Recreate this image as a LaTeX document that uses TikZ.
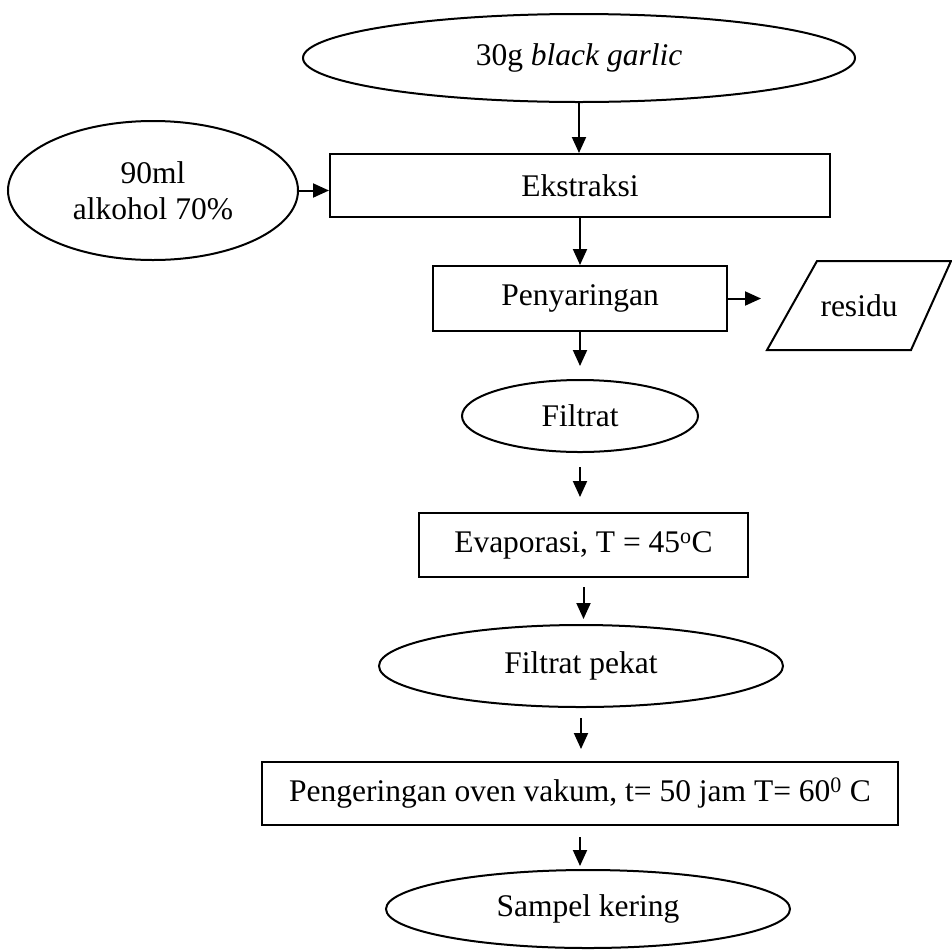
\documentclass[tikz,border=0pt]{standalone}
\usepackage{fontspec}
\setmainfont{Liberation Serif}
\usetikzlibrary{shapes.geometric,arrows.meta}
\begin{document}
\begin{tikzpicture}[x=1pt,y=-1pt,
  lbl/.style={font=\fontsize{31.5}{36}\selectfont, inner sep=0pt, line width=2pt},
  oval/.style={lbl, draw, ellipse},
  box/.style={lbl, draw, rectangle},
  arr/.style={-{Triangle[length=16pt,width=14pt]}, line width=2pt}]
\useasboundingbox (0,0) rectangle (952,951);
\node[oval, minimum width=552, minimum height=88] (garlic) at (579,58) {30g \textit{black garlic}};
\node[box, minimum width=500, minimum height=63] (ekst) at (580,185.5) {Ekstraksi};
\node[oval, minimum width=290, minimum height=139, align=center] (alk) at (153,190.5) {90ml\\alkohol 70\%};
\node[box, minimum width=294, minimum height=65] (pen) at (580,298.5) {Penyaringan};
\node[lbl, minimum width=182, minimum height=87] (res) at (859,305.5) {residu};
\draw[line width=2pt] (res.south west) -- ([xshift=-40pt]res.south east) -- (res.north east) -- ([xshift=50pt]res.north west) -- cycle;
\node[oval, minimum width=236, minimum height=72] (filt) at (580,416) {Filtrat};
\node[box, minimum width=329, minimum height=64] (evap) at (583.5,545) {Evaporasi, T = 45\textsuperscript{o}C};
\node[oval, minimum width=404, minimum height=82] (fp) at (581,666) {Filtrat pekat};
\node[box, minimum width=636, minimum height=63] (peng) at (580,793.5) {Pengeringan oven vakum, t= 50 jam T= 60\textsuperscript{0} C};
\node[oval, minimum width=404, minimum height=78] (samp) at (588,909) {Sampel kering};

\draw[arr] (garlic.south) -- (garlic.south |- ekst.north);
\draw[arr] (alk.east) -- (alk.east -| ekst.west);
\draw[arr] (ekst.south) -- (ekst.south |- pen.north);
\draw[arr, shorten >=6pt] (pen.east) -- (pen.east -| res.west);
\draw[arr, shorten >=13pt] (pen.south) -- (pen.south |- filt.north);
\draw[arr, shorten <=14pt, shorten >=15pt] (filt.south) -- (filt.south |- evap.north);
\draw[arr, shorten <=9pt, shorten >=5pt] (evap.south) -- (evap.south |- fp.north);
\draw[arr, shorten <=10pt, shorten >=12pt] (fp.south) -- (fp.south |- peng.north);
\draw[arr, shorten <=11pt, shorten >=3pt] (peng.south) -- (peng.south |- samp.north);
\end{tikzpicture}
\end{document}
